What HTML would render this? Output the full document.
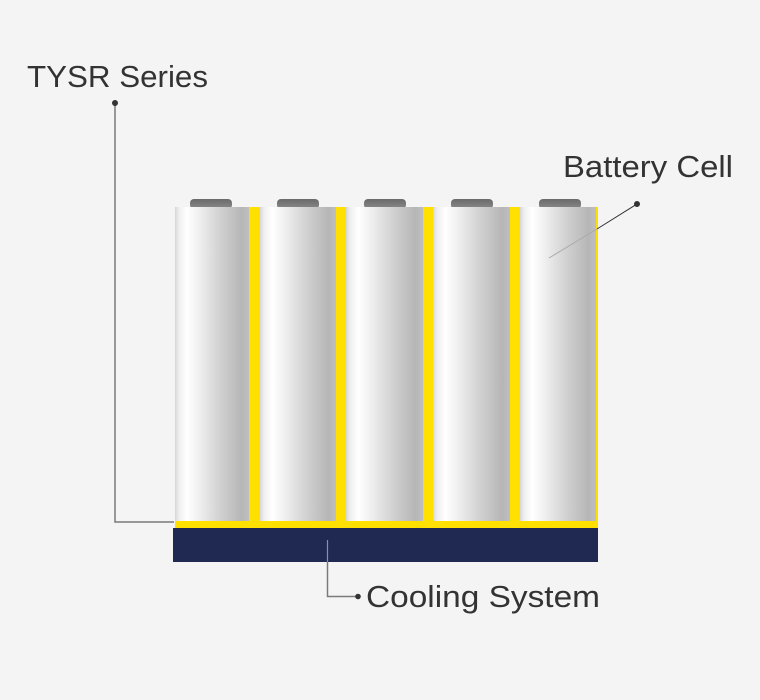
<!DOCTYPE html>
<html><head><meta charset="utf-8"><style>
html,body{margin:0;padding:0;background:#f4f4f4;}
svg{display:block;}
text{font-family:"Liberation Sans",Arial,sans-serif;fill:#333;}
</style></head><body>
<svg width="760" height="700" viewBox="0 0 760 700" xmlns="http://www.w3.org/2000/svg">
<defs>
<linearGradient id="cell" x1="0" y1="0" x2="1" y2="0">
<stop offset="0" stop-color="#d6d6d6"/>
<stop offset="0.05" stop-color="#eeeeee"/>
<stop offset="0.16" stop-color="#ffffff"/>
<stop offset="0.32" stop-color="#f0f0f0"/>
<stop offset="0.62" stop-color="#d0d0d0"/>
<stop offset="0.9" stop-color="#b6b6b6"/>
<stop offset="1" stop-color="#bfbfbf"/>
</linearGradient>
<linearGradient id="cap" x1="0" y1="0" x2="0" y2="1">
<stop offset="0" stop-color="#6a6a6a"/>
<stop offset="1" stop-color="#8a8a8a"/>
</linearGradient>
</defs>
<rect width="760" height="700" fill="#f4f4f4"/>
<!-- yellow frame -->
<rect x="175" y="207" width="423" height="321" fill="#ffe000"/>
<!-- navy base -->
<rect x="173" y="528" width="425" height="34" fill="#1f2952"/>
<!-- caps -->
<rect x="190" y="199" width="42" height="10" rx="4" fill="url(#cap)"/>
<rect x="277" y="199" width="42" height="10" rx="4" fill="url(#cap)"/>
<rect x="364" y="199" width="42" height="10" rx="4" fill="url(#cap)"/>
<rect x="451" y="199" width="42" height="10" rx="4" fill="url(#cap)"/>
<rect x="539" y="199" width="42" height="10" rx="4" fill="url(#cap)"/>
<!-- cells -->
<rect x="175" y="207" width="74" height="314" fill="url(#cell)"/>
<rect x="260" y="207" width="76" height="314" fill="url(#cell)"/>
<rect x="346" y="207" width="77" height="314" fill="url(#cell)"/>
<rect x="433" y="207" width="77" height="314" fill="url(#cell)"/>
<rect x="520" y="207" width="76" height="314" fill="url(#cell)"/>
<!-- TYSR line -->
<polyline points="115,103 115,522 174,522" fill="none" stroke="#7a7a7a" stroke-width="1.5"/>
<circle cx="115" cy="103" r="3" fill="#333"/>
<text x="27" y="87" font-size="31" textLength="181" lengthAdjust="spacingAndGlyphs">TYSR Series</text>
<!-- Battery cell line -->
<line x1="637" y1="204" x2="597" y2="229" stroke="#333" stroke-width="1"/>
<line x1="597" y1="229" x2="549" y2="258" stroke="#aaaaaa" stroke-width="1"/>
<circle cx="637" cy="204" r="3" fill="#333"/>
<text x="563" y="177" font-size="31" textLength="170" lengthAdjust="spacingAndGlyphs">Battery Cell</text>
<!-- Cooling line -->
<line x1="327.5" y1="540" x2="327.5" y2="562" stroke="#8a8fa5" stroke-width="1.2"/>
<polyline points="327.5,562 327.5,596.5 357,596.5" fill="none" stroke="#7a7a7a" stroke-width="1.5"/>
<circle cx="358" cy="596.5" r="2.8" fill="#333"/>
<text x="366" y="607" font-size="31" textLength="234" lengthAdjust="spacingAndGlyphs">Cooling System</text>
</svg>
</body></html>
